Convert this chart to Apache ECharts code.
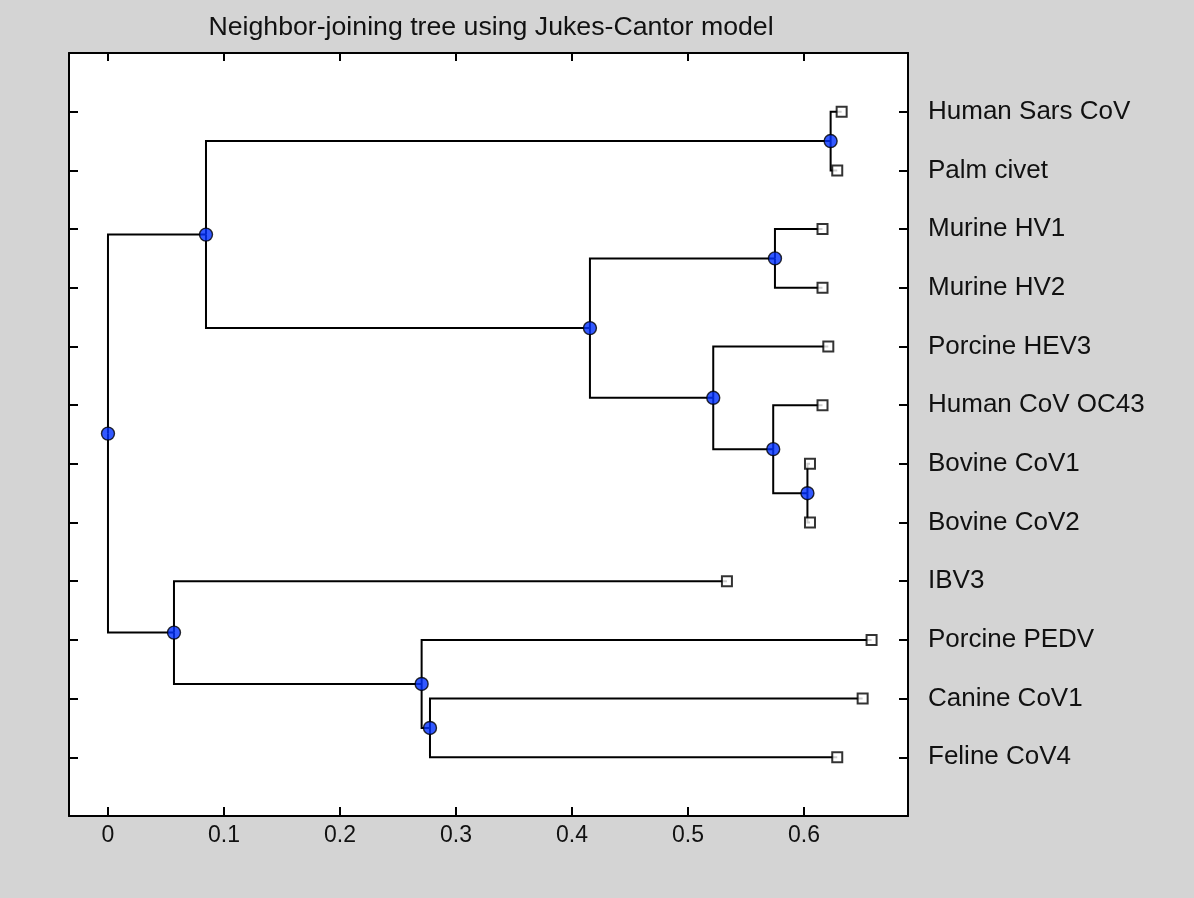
<!DOCTYPE html>
<html>
<head>
<meta charset="utf-8">
<script src="https://cdn.jsdelivr.net/npm/echarts@6/dist/echarts.min.js"></script>
<style>html,body{margin:0;padding:0;background:#d4d4d4;}#c{width:1194px;height:898px;}</style>
</head>
<body>
<div id="c"></div>
<script>
// ---- data ----
const titleText = 'Neighbor-joining tree using Jukes-Cantor model';
const leafNames = ['Human Sars CoV','Palm civet','Murine HV1','Murine HV2','Porcine HEV3','Human CoV OC43','Bovine CoV1','Bovine CoV2','IBV3','Porcine PEDV','Canine CoV1','Feline CoV4'];
const leafDist = [0.6325, 0.6287, 0.616, 0.616, 0.621, 0.616, 0.6052, 0.6052, 0.5336, 0.6583, 0.6506, 0.6287];
// internal nodes (ids 12..22): root, A, Sars, B, Murine, C, D, E, F, G, H
const nodeDist = [0, 0.0845, 0.623, 0.4155, 0.575, 0.5218, 0.5735, 0.603, 0.0569, 0.2704, 0.2776];
// children of each internal node (leaf ids 0..11, internal ids 12..22)
const nodeChildren = [[13,20],[14,15],[0,1],[16,17],[2,3],[4,18],[5,19],[6,7],[8,21],[9,22],[10,11]];
const xTicks = [0, 0.1, 0.2, 0.3, 0.4, 0.5, 0.6];

// ---- layout from tree structure ----
const nLeaf = leafNames.length;
const dist = leafDist.concat(nodeDist);
const ypos = [];
for (let i = 0; i < nLeaf; i++) ypos[i] = i + 1;
function getY(id){
  if (ypos[id] !== undefined) return ypos[id];
  const ch = nodeChildren[id - nLeaf];
  ypos[id] = (getY(ch[0]) + getY(ch[1])) / 2;
  return ypos[id];
}
for (let k = 0; k < nodeDist.length; k++) getY(nLeaf + k);

const edges = [];
nodeChildren.forEach((ch, k) => {
  const p = nLeaf + k;
  ch.forEach(c => {
    edges.push({coords: [[dist[p], ypos[p]], [dist[p], ypos[c]], [dist[c], ypos[c]]]});
  });
});
const leafPts = leafDist.map((d, i) => [d, ypos[i]]);
const nodePts = nodeDist.map((d, k) => [d, ypos[nLeaf + k]]);

const FONT = 'Liberation Sans, Arial, sans-serif';
const chart = echarts.init(document.getElementById('c'), null, {renderer: 'canvas'});
const yBase = {type: 'value', min: 0, max: 13, interval: 1, inverse: true, splitLine: {show: false},
  axisLine: {show: true, onZero: false, lineStyle: {color: '#000', width: 2}}};
const xBase = {type: 'value', min: -0.0336, max: 0.6897, splitLine: {show: false},
  axisLine: {show: true, onZero: false, lineStyle: {color: '#000', width: 2}}};
chart.setOption({
  backgroundColor: '#d4d4d4',
  animation: false,
  title: {text: titleText, left: 486, top: 9, textAlign: 'center',
    textStyle: {fontFamily: FONT, fontSize: 26.7, fontWeight: 'normal', color: '#111'}},
  grid: {left: 69, right: 286, top: 53, bottom: 82, show: true, backgroundColor: '#fff', borderWidth: 0},
  xAxis: [
    Object.assign({}, xBase, {position: 'bottom',
      axisTick: {show: true, inside: true, length: 9, customValues: xTicks, lineStyle: {color: '#000', width: 2}},
      axisLabel: {show: true, customValues: xTicks, margin: 8, fontFamily: FONT, fontSize: 23, color: '#111',
        formatter: v => String(Math.round(v * 10) / 10)}}),
    Object.assign({}, xBase, {position: 'top',
      axisTick: {show: true, inside: true, length: 8, customValues: xTicks, lineStyle: {color: '#000', width: 2}},
      axisLabel: {show: false}})
  ],
  yAxis: [
    Object.assign({}, yBase, {position: 'left',
      axisTick: {show: true, inside: true, length: 9, lineStyle: {color: '#000', width: 2}},
      axisLabel: {show: false}}),
    Object.assign({}, yBase, {position: 'right',
      axisTick: {show: true, inside: true, length: 9, lineStyle: {color: '#000', width: 2}},
      axisLabel: {show: true, margin: 20, fontFamily: FONT, fontSize: 26, color: '#111',
        formatter: v => (v >= 1 && v <= nLeaf) ? leafNames[v - 1] : ''}})
  ],
  series: [
    {type: 'lines', coordinateSystem: 'cartesian2d', polyline: true, z: 2,
      lineStyle: {color: '#000', width: 2, opacity: 1}, data: edges},
    {type: 'scatter', z: 3, symbol: 'rect', symbolSize: 10,
      itemStyle: {color: '#fff', borderColor: '#000', borderWidth: 2}, data: leafPts},
    {type: 'scatter', z: 4, symbol: 'circle', symbolSize: 13,
      itemStyle: {color: '#0030ff', borderColor: '#000', borderWidth: 1.4}, data: nodePts}
  ]
});
</script>
</body>
</html>
